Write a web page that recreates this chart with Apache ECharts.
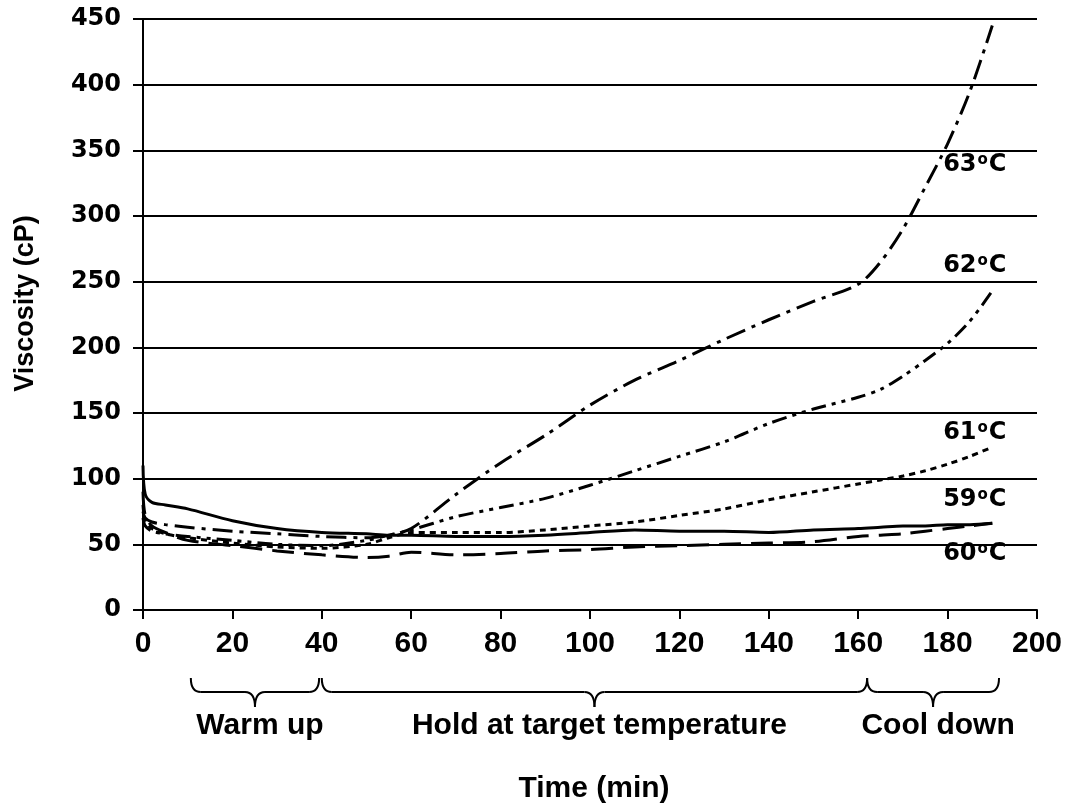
<!DOCTYPE html>
<html><head><meta charset="utf-8">
<script src="https://cdn.jsdelivr.net/npm/echarts@6/dist/echarts.min.js"></script>
<style>html,body{margin:0;padding:0;background:#fff}#c{width:1071px;height:807px}</style>
</head><body><div id="c"></div>
<script>
const times   = [0, 0.5, 2, 5, 10, 20, 30, 40, 50, 55, 60, 70, 80, 90, 100, 110, 120, 130, 140, 150, 160, 165, 170, 175, 180, 185, 190];
const visc59  = [110, 88, 82, 80, 77, 68, 62, 59, 58, 57, 57, 56, 56, 57, 59, 61, 60, 60, 59, 61, 62, 63, 64, 64, 65, 65, 66];
const visc60  = [90, 72, 64, 59, 53, 49, 45, 42, 40, 41, 44, 42, 43, 45, 46, 48, 49, 50, 51, 52, 56, 57, 58, 60, 62, 64, 66];
const visc61  = [80, 68, 62, 58, 55, 51, 48, 47, 50, 55, 59, 59, 59, 61, 64, 67, 72, 77, 84, 90, 96, 99, 102, 106, 111, 117, 124];
const visc62  = [70, 64, 60, 58, 56, 53, 50, 49, 53, 57, 61, 71, 78, 85, 95, 106, 117, 128, 142, 153, 162, 168, 178, 190, 203, 220, 243];
const visc63  = [75, 70, 67, 65, 63, 60, 58, 56, 55, 57, 62, 88, 112, 133, 156, 175, 190, 206, 221, 235, 248, 265, 290, 322, 355, 395, 445];
const labelNames = ['63', '62', '61', '59', '60'];
const labelX     = [179, 179, 179, 179, 179];
const labelY     = [339, 262, 135, 84, 43];
const phaseNames = ['Warm up', 'Hold at target temperature', 'Cool down'];
const phaseStart = [10.7, 40, 162];
const phaseEnd   = [39.4, 162, 191.5];

const FONT = '"Liberation Sans", Arial, sans-serif';
const WIDE = '"DejaVu Sans", Verdana, sans-serif';

function pairs(v){ return times.map((t,i)=>[t, v[i]]); }

const styles = {
  '59': 'solid',
  '60': [22,10],
  '61': [6,5],
  '62': [15,6,4,6,4,6],
  '63': [20,7,4,7]
};
const seriesData = {'59':visc59,'60':visc60,'61':visc61,'62':visc62,'63':visc63};

const series = ['59','60','61','62','63'].map(k => ({
  name: k + '°C', type:'line', data: pairs(seriesData[k]), showSymbol:false, smooth:0.3,
  lineStyle:{color:'#000', width:3, type: styles[k]}, z: 3
}));

series.push({
  type:'scatter', data:[], silent:true,
  markPoint:{
    symbol:'circle', symbolSize:0,
    data: labelNames.map((n,i)=>({coord:[labelX[i], labelY[i]], value:n})),
    label:{show:true, position:'right', distance:0, color:'#000',
      formatter: p => '{n|' + p.value + '}{s|o}{n|C}',
      rich:{ n:{fontFamily:WIDE, fontWeight:'bold', fontSize:24, color:'#000'},
             s:{fontFamily:WIDE, fontWeight:'bold', fontSize:15, color:'#000', padding:[0,1,9,1]} }
    }
  }
});

const chart = echarts.init(document.getElementById('c'));
chart.setOption({
  animation:false,
  backgroundColor:'#fff',
  grid:{left:143, right:34, top:19, bottom:197},
  xAxis:{type:'value', min:0, max:200, interval:20,
    axisLine:{show:true, onZero:false, lineStyle:{color:'#000', width:2}},
    axisTick:{show:true, length:9, lineStyle:{color:'#000', width:2}},
    axisLabel:{color:'#000', fontFamily:FONT, fontWeight:'bold', fontSize:30, margin:19},
    splitLine:{show:false}
  },
  yAxis:{type:'value', min:0, max:450, interval:50,
    name:'Viscosity (cP)', nameLocation:'middle', nameGap:104,
    nameTextStyle:{color:'#000', fontFamily:FONT, fontWeight:'bold', fontSize:27, padding:[0,0,0,22]},
    axisLine:{show:true, lineStyle:{color:'#000', width:2}},
    axisTick:{show:true, length:10, lineStyle:{color:'#000', width:2}},
    axisLabel:{color:'#000', fontFamily:WIDE, fontWeight:'bold', fontSize:24, margin:22},
    splitLine:{show:true, lineStyle:{color:'#000', width:2}}
  },
  series: series
});

const graphics = [];
const y0 = chart.convertToPixel({gridIndex:0}, [0,0])[1];
const yTop = y0 + 68, yMid = y0 + 82, yTip = y0 + 97;
const st = {fill:null, stroke:'#000', lineWidth:2};
for (let i=0;i<phaseNames.length;i++){
  const x0 = chart.convertToPixel({gridIndex:0},[phaseStart[i],0])[0];
  const x1 = chart.convertToPixel({gridIndex:0},[phaseEnd[i],0])[0];
  const xm = (x0 + x1) / 2;
  const r = 10;
  graphics.push({type:'bezierCurve', shape:{x1:x0, y1:yTop, cpx1:x0, cpy1:yMid, x2:x0+r, y2:yMid}, style:st});
  graphics.push({type:'line', shape:{x1:x0+r, y1:yMid, x2:xm-r, y2:yMid}, style:st});
  graphics.push({type:'bezierCurve', shape:{x1:xm-r, y1:yMid, cpx1:xm, cpy1:yMid, x2:xm, y2:yTip}, style:st});
  graphics.push({type:'bezierCurve', shape:{x1:xm, y1:yTip, cpx1:xm, cpy1:yMid, x2:xm+r, y2:yMid}, style:st});
  graphics.push({type:'line', shape:{x1:xm+r, y1:yMid, x2:x1-r, y2:yMid}, style:st});
  graphics.push({type:'bezierCurve', shape:{x1:x1-r, y1:yMid, cpx1:x1, cpy1:yMid, x2:x1, y2:yTop}, style:st});
  graphics.push({type:'text', x: xm + 5, y: y0 + 116, style:{text:phaseNames[i], fill:'#000', font:'bold 30px ' + FONT, textAlign:'center', textVerticalAlign:'middle'}});
}
const xc = chart.convertToPixel({gridIndex:0},[100,0])[0];
graphics.push({type:'text', x:xc + 4, y: y0 + 179, style:{text:'Time (min)', fill:'#000', font:'bold 30px ' + FONT, textAlign:'center', textVerticalAlign:'middle'}});
chart.setOption({graphic: graphics});
</script></body></html>
